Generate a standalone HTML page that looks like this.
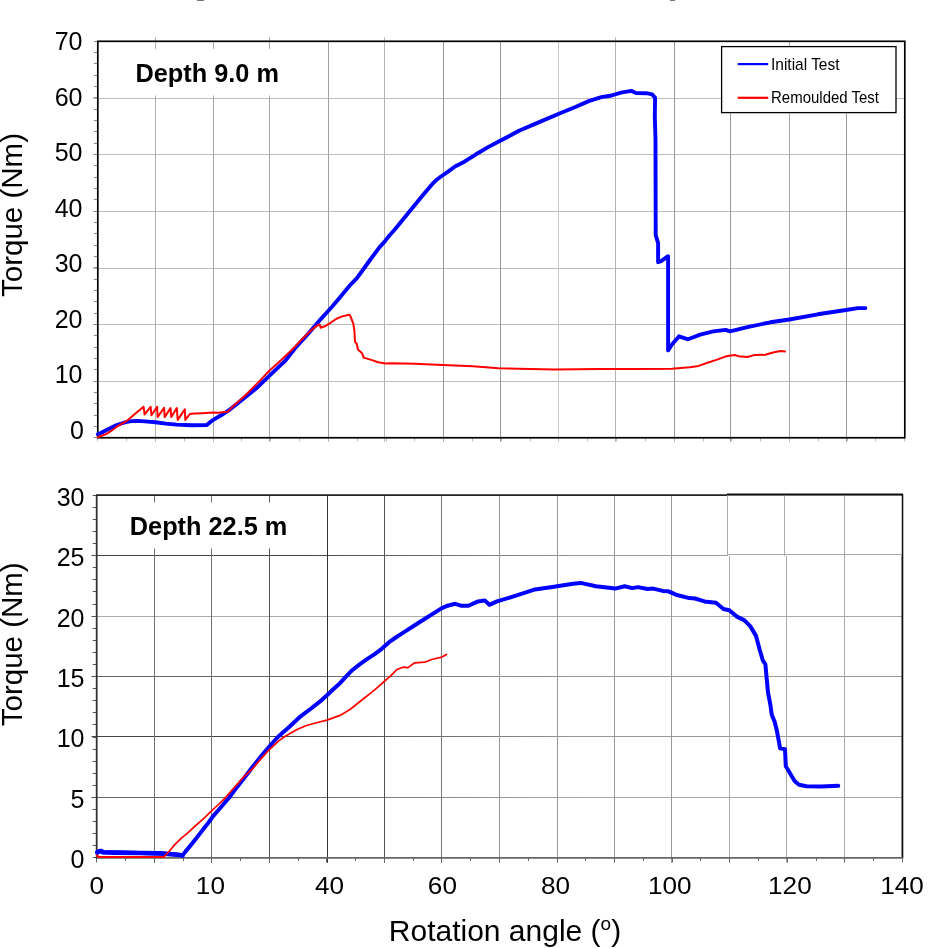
<!DOCTYPE html><html><head><meta charset="utf-8"><style>html,body{margin:0;padding:0;background:#fff}svg{display:block;will-change:transform}text{font-family:"Liberation Sans",sans-serif}</style></head><body>
<svg width="947" height="948" viewBox="0 0 947 948">
<rect width="947" height="948" fill="#fff"/>
<rect x="197" y="0" width="7" height="1" fill="#777"/><rect x="670" y="0" width="5" height="1" fill="#777"/>
<line x1="92.8" y1="98.5" x2="904.8" y2="98.5" stroke="#bcbcbc" stroke-width="1"/>
<line x1="92.8" y1="154.5" x2="904.8" y2="154.5" stroke="#bcbcbc" stroke-width="1"/>
<line x1="92.8" y1="211.5" x2="904.8" y2="211.5" stroke="#bcbcbc" stroke-width="1"/>
<line x1="92.8" y1="268.5" x2="904.8" y2="268.5" stroke="#bcbcbc" stroke-width="1"/>
<line x1="92.8" y1="324.5" x2="904.8" y2="324.5" stroke="#bcbcbc" stroke-width="1"/>
<line x1="92.8" y1="381.5" x2="904.8" y2="381.5" stroke="#bcbcbc" stroke-width="1"/>
<line x1="155.5" y1="37.3" x2="155.5" y2="441.75" stroke="#b0b0b0" stroke-width="1"/>
<line x1="213.5" y1="41.3" x2="213.5" y2="441.75" stroke="#a8a8a8" stroke-width="1"/>
<line x1="269.5" y1="37.3" x2="269.5" y2="441.75" stroke="#a8a8a8" stroke-width="1"/>
<line x1="328.5" y1="41.3" x2="328.5" y2="441.75" stroke="#a0a0a0" stroke-width="1"/>
<line x1="384.5" y1="37.3" x2="384.5" y2="441.75" stroke="#b4b4b4" stroke-width="1"/>
<line x1="443.5" y1="41.3" x2="443.5" y2="441.75" stroke="#999" stroke-width="1"/>
<line x1="500.5" y1="41.3" x2="500.5" y2="441.75" stroke="#999" stroke-width="1"/>
<line x1="558.5" y1="41.3" x2="558.5" y2="441.75" stroke="#c8c8c8" stroke-width="1"/>
<line x1="615.5" y1="37.3" x2="615.5" y2="441.75" stroke="#b4b4b4" stroke-width="1"/>
<line x1="674.5" y1="41.3" x2="674.5" y2="441.75" stroke="#999" stroke-width="1"/>
<line x1="730.5" y1="112.6" x2="730.5" y2="441.75" stroke="#999" stroke-width="1"/>
<line x1="789.5" y1="41.3" x2="789.5" y2="441.75" stroke="#a8a8a8" stroke-width="1"/>
<line x1="846.5" y1="112.6" x2="846.5" y2="441.75" stroke="#999" stroke-width="1"/>
<line x1="93.8" y1="437.5" x2="97.8" y2="437.5" stroke="#888" stroke-width="1"/>
<line x1="93.8" y1="426.5" x2="97.8" y2="426.5" stroke="#888" stroke-width="1"/>
<line x1="93.8" y1="415.5" x2="97.8" y2="415.5" stroke="#888" stroke-width="1"/>
<line x1="93.8" y1="403.5" x2="97.8" y2="403.5" stroke="#888" stroke-width="1"/>
<line x1="93.8" y1="392.5" x2="97.8" y2="392.5" stroke="#888" stroke-width="1"/>
<line x1="93.8" y1="381.5" x2="97.8" y2="381.5" stroke="#888" stroke-width="1"/>
<line x1="93.8" y1="369.5" x2="97.8" y2="369.5" stroke="#888" stroke-width="1"/>
<line x1="93.8" y1="358.5" x2="97.8" y2="358.5" stroke="#888" stroke-width="1"/>
<line x1="93.8" y1="347.5" x2="97.8" y2="347.5" stroke="#888" stroke-width="1"/>
<line x1="93.8" y1="335.5" x2="97.8" y2="335.5" stroke="#888" stroke-width="1"/>
<line x1="93.8" y1="324.5" x2="97.8" y2="324.5" stroke="#888" stroke-width="1"/>
<line x1="93.8" y1="313.5" x2="97.8" y2="313.5" stroke="#888" stroke-width="1"/>
<line x1="93.8" y1="301.5" x2="97.8" y2="301.5" stroke="#888" stroke-width="1"/>
<line x1="93.8" y1="290.5" x2="97.8" y2="290.5" stroke="#888" stroke-width="1"/>
<line x1="93.8" y1="279.5" x2="97.8" y2="279.5" stroke="#888" stroke-width="1"/>
<line x1="93.8" y1="267.5" x2="97.8" y2="267.5" stroke="#888" stroke-width="1"/>
<line x1="93.8" y1="256.5" x2="97.8" y2="256.5" stroke="#888" stroke-width="1"/>
<line x1="93.8" y1="245.5" x2="97.8" y2="245.5" stroke="#888" stroke-width="1"/>
<line x1="93.8" y1="233.5" x2="97.8" y2="233.5" stroke="#888" stroke-width="1"/>
<line x1="93.8" y1="222.5" x2="97.8" y2="222.5" stroke="#888" stroke-width="1"/>
<line x1="93.8" y1="211.5" x2="97.8" y2="211.5" stroke="#888" stroke-width="1"/>
<line x1="93.8" y1="199.5" x2="97.8" y2="199.5" stroke="#888" stroke-width="1"/>
<line x1="93.8" y1="188.5" x2="97.8" y2="188.5" stroke="#888" stroke-width="1"/>
<line x1="93.8" y1="177.5" x2="97.8" y2="177.5" stroke="#888" stroke-width="1"/>
<line x1="93.8" y1="165.5" x2="97.8" y2="165.5" stroke="#888" stroke-width="1"/>
<line x1="93.8" y1="154.5" x2="97.8" y2="154.5" stroke="#888" stroke-width="1"/>
<line x1="93.8" y1="143.5" x2="97.8" y2="143.5" stroke="#888" stroke-width="1"/>
<line x1="93.8" y1="131.5" x2="97.8" y2="131.5" stroke="#888" stroke-width="1"/>
<line x1="93.8" y1="120.5" x2="97.8" y2="120.5" stroke="#888" stroke-width="1"/>
<line x1="93.8" y1="109.5" x2="97.8" y2="109.5" stroke="#888" stroke-width="1"/>
<line x1="93.8" y1="97.5" x2="97.8" y2="97.5" stroke="#888" stroke-width="1"/>
<line x1="93.8" y1="86.5" x2="97.8" y2="86.5" stroke="#888" stroke-width="1"/>
<line x1="93.8" y1="75.5" x2="97.8" y2="75.5" stroke="#888" stroke-width="1"/>
<line x1="93.8" y1="63.5" x2="97.8" y2="63.5" stroke="#888" stroke-width="1"/>
<line x1="93.8" y1="52.5" x2="97.8" y2="52.5" stroke="#888" stroke-width="1"/>
<line x1="93.8" y1="41.5" x2="97.8" y2="41.5" stroke="#888" stroke-width="1"/>
<line x1="97.5" y1="437.75" x2="97.5" y2="441.25" stroke="#bbb" stroke-width="1"/>
<line x1="126.5" y1="437.75" x2="126.5" y2="441.25" stroke="#bbb" stroke-width="1"/>
<line x1="155.5" y1="437.75" x2="155.5" y2="441.25" stroke="#bbb" stroke-width="1"/>
<line x1="184.5" y1="437.75" x2="184.5" y2="441.25" stroke="#bbb" stroke-width="1"/>
<line x1="213.5" y1="437.75" x2="213.5" y2="441.25" stroke="#bbb" stroke-width="1"/>
<line x1="241.5" y1="437.75" x2="241.5" y2="441.25" stroke="#bbb" stroke-width="1"/>
<line x1="270.5" y1="437.75" x2="270.5" y2="441.25" stroke="#bbb" stroke-width="1"/>
<line x1="299.5" y1="437.75" x2="299.5" y2="441.25" stroke="#bbb" stroke-width="1"/>
<line x1="328.5" y1="437.75" x2="328.5" y2="441.25" stroke="#bbb" stroke-width="1"/>
<line x1="357.5" y1="437.75" x2="357.5" y2="441.25" stroke="#bbb" stroke-width="1"/>
<line x1="386.5" y1="437.75" x2="386.5" y2="441.25" stroke="#bbb" stroke-width="1"/>
<line x1="414.5" y1="437.75" x2="414.5" y2="441.25" stroke="#bbb" stroke-width="1"/>
<line x1="443.5" y1="437.75" x2="443.5" y2="441.25" stroke="#bbb" stroke-width="1"/>
<line x1="472.5" y1="437.75" x2="472.5" y2="441.25" stroke="#bbb" stroke-width="1"/>
<line x1="501.5" y1="437.75" x2="501.5" y2="441.25" stroke="#bbb" stroke-width="1"/>
<line x1="530.5" y1="437.75" x2="530.5" y2="441.25" stroke="#bbb" stroke-width="1"/>
<line x1="558.5" y1="437.75" x2="558.5" y2="441.25" stroke="#bbb" stroke-width="1"/>
<line x1="587.5" y1="437.75" x2="587.5" y2="441.25" stroke="#bbb" stroke-width="1"/>
<line x1="616.5" y1="437.75" x2="616.5" y2="441.25" stroke="#bbb" stroke-width="1"/>
<line x1="645.5" y1="437.75" x2="645.5" y2="441.25" stroke="#bbb" stroke-width="1"/>
<line x1="674.5" y1="437.75" x2="674.5" y2="441.25" stroke="#bbb" stroke-width="1"/>
<line x1="703.5" y1="437.75" x2="703.5" y2="441.25" stroke="#bbb" stroke-width="1"/>
<line x1="731.5" y1="437.75" x2="731.5" y2="441.25" stroke="#bbb" stroke-width="1"/>
<line x1="760.5" y1="437.75" x2="760.5" y2="441.25" stroke="#bbb" stroke-width="1"/>
<line x1="789.5" y1="437.75" x2="789.5" y2="441.25" stroke="#bbb" stroke-width="1"/>
<line x1="818.5" y1="437.75" x2="818.5" y2="441.25" stroke="#bbb" stroke-width="1"/>
<line x1="847.5" y1="437.75" x2="847.5" y2="441.25" stroke="#bbb" stroke-width="1"/>
<line x1="875.5" y1="437.75" x2="875.5" y2="441.25" stroke="#bbb" stroke-width="1"/>
<line x1="904.5" y1="437.75" x2="904.5" y2="441.25" stroke="#bbb" stroke-width="1"/>
<rect x="99" y="49" width="196" height="46.5" fill="#fff"/>
<rect x="721.6" y="46.6" width="174.4" height="66" fill="#fff" stroke="#000" stroke-width="1.3"/>
<line x1="737.7" y1="64.1" x2="768.2" y2="64.1" stroke="#0000ff" stroke-width="2.2"/>
<line x1="737.7" y1="97.8" x2="768.2" y2="97.8" stroke="#ff0000" stroke-width="2.2"/>
<text x="771" y="69.5" font-size="17" textLength="68.5" lengthAdjust="spacingAndGlyphs" fill="#000">Initial Test</text>
<text x="771" y="103.4" font-size="17" textLength="108" lengthAdjust="spacingAndGlyphs" fill="#000">Remoulded Test</text>
<rect x="97.8" y="41.3" width="807.0" height="396.45" fill="none" stroke="#000" stroke-width="1.7"/>
<path d="M97.8,434.3 L100.3,433.3 L105.6,430.6 L110.8,428.0 L116.1,425.3 L121.4,423.5 L126.7,421.9 L132.0,421.1 L137.2,420.9 L145.0,421.4 L155.4,422.2 L165.9,423.6 L176.5,424.6 L185.7,425.0 L192.0,425.2 L206.8,425.0 L211.6,420.9 L223.2,414.0 L230.2,409.3 L245.0,397.5 L256.6,388.0 L268.2,376.9 L279.8,365.9 L285.0,361.0 L295.3,348.0 L308.0,334.0 L315.5,325.3 L320.8,319.1 L326.6,312.7 L332.4,306.3 L338.2,299.4 L344.0,292.4 L349.8,285.4 L356.7,278.3 L364.3,268.0 L370.7,259.0 L379.4,247.4 L384.6,241.6 L389.2,235.8 L394.4,230.0 L409.9,211.1 L423.4,194.6 L431.9,184.4 L436.0,180.3 L440.3,177.0 L448.8,171.1 L455.0,166.5 L464.4,161.7 L476.0,154.3 L488.6,146.9 L500.6,140.5 L509.8,135.8 L519.0,130.8 L538.0,122.6 L558.9,113.7 L576.0,106.8 L588.7,101.1 L601.4,97.2 L611.6,95.5 L620.9,92.6 L631.3,90.9 L636.0,93.0 L646.4,93.2 L652.2,94.4 L655.1,97.8 L654.8,116.4 L655.5,139.6 L655.7,235.1 L658.1,243.1 L658.1,262.2 L661.1,261.2 L668.1,256.2 L668.1,350.4 L672.1,344.3 L679.1,336.3 L688.1,339.3 L700.2,334.6 L713.3,331.4 L725.7,329.9 L730.0,331.4 L747.5,327.1 L770.3,322.3 L789.3,319.5 L817.8,314.3 L846.0,310.0 L857.8,308.1 L865.4,308.1" fill="none" stroke="#0000ff" stroke-width="3.9" stroke-linejoin="round" stroke-linecap="round"/>
<path d="M97.8,437.2 L105.6,434.3 L110.8,431.2 L116.1,427.2 L121.4,423.8 L126.7,420.9 L132.0,416.4 L137.2,412.1 L143.6,406.9 L144.6,414.4 L150.6,406.8 L151.5,415.3 L157.1,406.8 L157.6,417.1 L164.1,407.7 L164.7,417.1 L170.5,408.1 L171.3,417.1 L176.8,408.1 L177.7,419.9 L184.8,409.4 L185.3,419.9 L189.9,414.0 L194.1,413.6 L202.6,413.2 L212.8,412.6 L218.6,412.8 L227.8,411.6 L234.8,404.7 L246.4,394.2 L258.0,382.6 L269.6,370.5 L281.2,360.0 L292.8,349.0 L301.6,339.6 L313.2,328.6 L317.8,325.1 L319.6,324.5 L320.7,327.7 L324.8,326.3 L330.6,322.8 L336.4,318.7 L342.2,316.4 L349.2,314.7 L350.3,315.8 L353.2,323.4 L354.4,330.3 L355.0,341.9 L356.7,343.7 L357.9,349.5 L361.9,352.9 L363.7,357.6 L371.2,359.9 L378.2,362.2 L385.1,363.4 L391.6,363.2 L414.8,363.7 L442.7,365.1 L472.9,366.2 L498.5,368.3 L531.0,369.0 L554.2,369.5 L600.0,368.9 L634.3,369.0 L672.0,368.8 L689.8,367.2 L698.6,365.9 L707.5,362.8 L716.4,359.9 L725.3,356.6 L730.8,355.5 L735.2,355.1 L738.6,356.2 L747.4,357.0 L754.1,355.1 L765.2,354.8 L774.0,352.2 L780.7,351.1 L785.1,351.5" fill="none" stroke="#ff0000" stroke-width="2" stroke-linejoin="round" stroke-linecap="round"/>
<text x="135.5" y="81.9" font-size="25.3" font-weight="bold" fill="#000">Depth 9.0 m</text>
<text x="82.5" y="49.9" font-size="25" text-anchor="end" fill="#000">70</text>
<text x="82.5" y="105.5" font-size="25" text-anchor="end" fill="#000">60</text>
<text x="82.5" y="161.0" font-size="25" text-anchor="end" fill="#000">50</text>
<text x="82.5" y="216.6" font-size="25" text-anchor="end" fill="#000">40</text>
<text x="82.5" y="272.1" font-size="25" text-anchor="end" fill="#000">30</text>
<text x="82.5" y="327.7" font-size="25" text-anchor="end" fill="#000">20</text>
<text x="82.5" y="383.3" font-size="25" text-anchor="end" fill="#000">10</text>
<text x="84" y="438.8" font-size="25" text-anchor="end" fill="#000">0</text>
<text transform="translate(22,215) rotate(-90)" font-size="29.5" text-anchor="middle" fill="#000">Torque (Nm)</text>
<defs>
<linearGradient id="hg0" gradientUnits="userSpaceOnUse" x1="96.7" y1="0" x2="902.4" y2="0"><stop offset="0.25" stop-color="#444"/><stop offset="0.6" stop-color="#999"/></linearGradient>
<linearGradient id="hg1" gradientUnits="userSpaceOnUse" x1="96.7" y1="0" x2="902.4" y2="0"><stop offset="0.25" stop-color="#aaa"/><stop offset="0.6" stop-color="#aaa"/></linearGradient>
<linearGradient id="hg2" gradientUnits="userSpaceOnUse" x1="96.7" y1="0" x2="902.4" y2="0"><stop offset="0.25" stop-color="#666"/><stop offset="0.6" stop-color="#999"/></linearGradient>
<linearGradient id="hg3" gradientUnits="userSpaceOnUse" x1="96.7" y1="0" x2="902.4" y2="0"><stop offset="0.25" stop-color="#444"/><stop offset="0.6" stop-color="#999"/></linearGradient>
<linearGradient id="hg4" gradientUnits="userSpaceOnUse" x1="96.7" y1="0" x2="902.4" y2="0"><stop offset="0.25" stop-color="#666"/><stop offset="0.6" stop-color="#aaa"/></linearGradient>
</defs>
<line x1="91.7" y1="555.5" x2="902.4" y2="555.5" stroke="url(#hg0)" stroke-width="1"/>
<line x1="91.7" y1="555.5" x2="96.7" y2="555.5" stroke="#444" stroke-width="1"/>
<line x1="91.7" y1="616.5" x2="902.4" y2="616.5" stroke="url(#hg1)" stroke-width="1"/>
<line x1="91.7" y1="616.5" x2="96.7" y2="616.5" stroke="#444" stroke-width="1"/>
<line x1="91.7" y1="676.5" x2="902.4" y2="676.5" stroke="url(#hg2)" stroke-width="1"/>
<line x1="91.7" y1="676.5" x2="96.7" y2="676.5" stroke="#444" stroke-width="1"/>
<line x1="91.7" y1="736.5" x2="902.4" y2="736.5" stroke="url(#hg3)" stroke-width="1"/>
<line x1="91.7" y1="736.5" x2="96.7" y2="736.5" stroke="#444" stroke-width="1"/>
<line x1="91.7" y1="797.5" x2="902.4" y2="797.5" stroke="url(#hg4)" stroke-width="1"/>
<line x1="91.7" y1="797.5" x2="96.7" y2="797.5" stroke="#444" stroke-width="1"/>
<line x1="154.5" y1="495.2" x2="154.5" y2="862.9" stroke="#707070" stroke-width="1"/>
<line x1="211.5" y1="495.2" x2="211.5" y2="862.9" stroke="#707070" stroke-width="1"/>
<line x1="269.5" y1="495.2" x2="269.5" y2="862.9" stroke="#555" stroke-width="1"/>
<line x1="327.5" y1="495.2" x2="327.5" y2="862.9" stroke="#333" stroke-width="1"/>
<line x1="384.5" y1="495.2" x2="384.5" y2="862.9" stroke="#555" stroke-width="1"/>
<line x1="441.5" y1="495.2" x2="441.5" y2="862.9" stroke="#777" stroke-width="1"/>
<line x1="499.5" y1="495.2" x2="499.5" y2="862.9" stroke="#999" stroke-width="1"/>
<line x1="557.5" y1="495.2" x2="557.5" y2="862.9" stroke="#999" stroke-width="1"/>
<line x1="614.5" y1="495.2" x2="614.5" y2="862.9" stroke="#999" stroke-width="1"/>
<line x1="671.5" y1="495.2" x2="671.5" y2="862.9" stroke="#999" stroke-width="1"/>
<line x1="729.5" y1="495.2" x2="729.5" y2="862.9" stroke="#aaa" stroke-width="1"/>
<line x1="786.5" y1="495.2" x2="786.5" y2="862.9" stroke="#aaa" stroke-width="1"/>
<line x1="844.5" y1="495.2" x2="844.5" y2="862.9" stroke="#aaa" stroke-width="1"/>
<line x1="92.7" y1="857.5" x2="96.7" y2="857.5" stroke="#555" stroke-width="1"/>
<line x1="92.7" y1="845.5" x2="96.7" y2="845.5" stroke="#555" stroke-width="1"/>
<line x1="92.7" y1="833.5" x2="96.7" y2="833.5" stroke="#555" stroke-width="1"/>
<line x1="92.7" y1="821.5" x2="96.7" y2="821.5" stroke="#555" stroke-width="1"/>
<line x1="92.7" y1="809.5" x2="96.7" y2="809.5" stroke="#555" stroke-width="1"/>
<line x1="92.7" y1="797.5" x2="96.7" y2="797.5" stroke="#555" stroke-width="1"/>
<line x1="92.7" y1="785.5" x2="96.7" y2="785.5" stroke="#555" stroke-width="1"/>
<line x1="92.7" y1="773.5" x2="96.7" y2="773.5" stroke="#555" stroke-width="1"/>
<line x1="92.7" y1="761.5" x2="96.7" y2="761.5" stroke="#555" stroke-width="1"/>
<line x1="92.7" y1="749.5" x2="96.7" y2="749.5" stroke="#555" stroke-width="1"/>
<line x1="92.7" y1="737.5" x2="96.7" y2="737.5" stroke="#555" stroke-width="1"/>
<line x1="92.7" y1="724.5" x2="96.7" y2="724.5" stroke="#555" stroke-width="1"/>
<line x1="92.7" y1="712.5" x2="96.7" y2="712.5" stroke="#555" stroke-width="1"/>
<line x1="92.7" y1="700.5" x2="96.7" y2="700.5" stroke="#555" stroke-width="1"/>
<line x1="92.7" y1="688.5" x2="96.7" y2="688.5" stroke="#555" stroke-width="1"/>
<line x1="92.7" y1="676.5" x2="96.7" y2="676.5" stroke="#555" stroke-width="1"/>
<line x1="92.7" y1="664.5" x2="96.7" y2="664.5" stroke="#555" stroke-width="1"/>
<line x1="92.7" y1="652.5" x2="96.7" y2="652.5" stroke="#555" stroke-width="1"/>
<line x1="92.7" y1="640.5" x2="96.7" y2="640.5" stroke="#555" stroke-width="1"/>
<line x1="92.7" y1="628.5" x2="96.7" y2="628.5" stroke="#555" stroke-width="1"/>
<line x1="92.7" y1="616.5" x2="96.7" y2="616.5" stroke="#555" stroke-width="1"/>
<line x1="92.7" y1="604.5" x2="96.7" y2="604.5" stroke="#555" stroke-width="1"/>
<line x1="92.7" y1="591.5" x2="96.7" y2="591.5" stroke="#555" stroke-width="1"/>
<line x1="92.7" y1="579.5" x2="96.7" y2="579.5" stroke="#555" stroke-width="1"/>
<line x1="92.7" y1="567.5" x2="96.7" y2="567.5" stroke="#555" stroke-width="1"/>
<line x1="92.7" y1="555.5" x2="96.7" y2="555.5" stroke="#555" stroke-width="1"/>
<line x1="92.7" y1="543.5" x2="96.7" y2="543.5" stroke="#555" stroke-width="1"/>
<line x1="92.7" y1="531.5" x2="96.7" y2="531.5" stroke="#555" stroke-width="1"/>
<line x1="92.7" y1="519.5" x2="96.7" y2="519.5" stroke="#555" stroke-width="1"/>
<line x1="92.7" y1="507.5" x2="96.7" y2="507.5" stroke="#555" stroke-width="1"/>
<line x1="92.7" y1="495.5" x2="96.7" y2="495.5" stroke="#555" stroke-width="1"/>
<line x1="96.5" y1="857.9" x2="96.5" y2="862.4" stroke="#666" stroke-width="1"/>
<line x1="125.5" y1="857.9" x2="125.5" y2="860.9" stroke="#666" stroke-width="1"/>
<line x1="154.5" y1="857.9" x2="154.5" y2="862.4" stroke="#666" stroke-width="1"/>
<line x1="183.5" y1="857.9" x2="183.5" y2="860.9" stroke="#666" stroke-width="1"/>
<line x1="211.5" y1="857.9" x2="211.5" y2="862.4" stroke="#666" stroke-width="1"/>
<line x1="240.5" y1="857.9" x2="240.5" y2="860.9" stroke="#666" stroke-width="1"/>
<line x1="269.5" y1="857.9" x2="269.5" y2="862.4" stroke="#666" stroke-width="1"/>
<line x1="298.5" y1="857.9" x2="298.5" y2="860.9" stroke="#666" stroke-width="1"/>
<line x1="326.5" y1="857.9" x2="326.5" y2="862.4" stroke="#666" stroke-width="1"/>
<line x1="355.5" y1="857.9" x2="355.5" y2="860.9" stroke="#666" stroke-width="1"/>
<line x1="384.5" y1="857.9" x2="384.5" y2="862.4" stroke="#666" stroke-width="1"/>
<line x1="413.5" y1="857.9" x2="413.5" y2="860.9" stroke="#666" stroke-width="1"/>
<line x1="441.5" y1="857.9" x2="441.5" y2="862.4" stroke="#666" stroke-width="1"/>
<line x1="470.5" y1="857.9" x2="470.5" y2="860.9" stroke="#666" stroke-width="1"/>
<line x1="499.5" y1="857.9" x2="499.5" y2="862.4" stroke="#666" stroke-width="1"/>
<line x1="528.5" y1="857.9" x2="528.5" y2="860.9" stroke="#666" stroke-width="1"/>
<line x1="557.5" y1="857.9" x2="557.5" y2="862.4" stroke="#666" stroke-width="1"/>
<line x1="585.5" y1="857.9" x2="585.5" y2="860.9" stroke="#666" stroke-width="1"/>
<line x1="614.5" y1="857.9" x2="614.5" y2="862.4" stroke="#666" stroke-width="1"/>
<line x1="643.5" y1="857.9" x2="643.5" y2="860.9" stroke="#666" stroke-width="1"/>
<line x1="672.5" y1="857.9" x2="672.5" y2="862.4" stroke="#666" stroke-width="1"/>
<line x1="700.5" y1="857.9" x2="700.5" y2="860.9" stroke="#666" stroke-width="1"/>
<line x1="729.5" y1="857.9" x2="729.5" y2="862.4" stroke="#666" stroke-width="1"/>
<line x1="758.5" y1="857.9" x2="758.5" y2="860.9" stroke="#666" stroke-width="1"/>
<line x1="787.5" y1="857.9" x2="787.5" y2="862.4" stroke="#666" stroke-width="1"/>
<line x1="816.5" y1="857.9" x2="816.5" y2="860.9" stroke="#666" stroke-width="1"/>
<line x1="844.5" y1="857.9" x2="844.5" y2="862.4" stroke="#666" stroke-width="1"/>
<line x1="873.5" y1="857.9" x2="873.5" y2="860.9" stroke="#666" stroke-width="1"/>
<line x1="902.5" y1="857.9" x2="902.5" y2="862.4" stroke="#666" stroke-width="1"/>
<rect x="98" y="502.5" width="190" height="46" fill="#fff"/>
<line x1="96.7" y1="495.2" x2="902.4" y2="495.2" stroke="#222" stroke-width="1.8"/>
<line x1="902.4" y1="494.3" x2="902.4" y2="857.9" stroke="#111" stroke-width="1.8"/>
<line x1="96.7" y1="494.3" x2="96.7" y2="858.8" stroke="#333" stroke-width="1.8"/>
<line x1="96.7" y1="857.9" x2="903.3" y2="857.9" stroke="#666" stroke-width="1.7"/>
<rect x="727" y="495.5" width="174.5" height="60.5" fill="#fff"/>
<line x1="727" y1="554.5" x2="902" y2="554.5" stroke="#aaa" stroke-width="1"/>
<line x1="727.5" y1="494.5" x2="727.5" y2="556" stroke="#aaa" stroke-width="1"/>
<line x1="784.5" y1="494.5" x2="784.5" y2="556" stroke="#aaa" stroke-width="1"/>
<line x1="844.5" y1="494.5" x2="844.5" y2="556" stroke="#aaa" stroke-width="1"/>
<line x1="727" y1="494.4" x2="903" y2="494.4" stroke="#111" stroke-width="1.6"/>
<path d="M97.3,852.5 L99.0,851.3 L101.0,851.0 L103.0,852.3 L115.3,852.6 L140.7,853.0 L160.0,853.4 L172.0,854.2 L180.0,855.0 L182.5,855.4 L185.4,851.6 L191.2,844.6 L195.9,838.8 L199.9,833.6 L204.0,828.2 L208.6,822.4 L212.7,816.6 L218.5,810.0 L229.0,797.8 L237.5,786.4 L245.9,775.8 L252.3,767.2 L261.6,755.6 L271.5,744.0 L278.4,736.5 L289.7,726.5 L300.6,716.3 L311.1,708.5 L321.7,700.1 L327.0,695.3 L333.0,689.5 L340.0,683.2 L344.8,677.8 L352.2,670.2 L359.6,664.4 L367.0,659.2 L374.3,654.4 L381.7,648.8 L389.1,642.2 L396.5,637.0 L402.9,632.9 L419.8,622.0 L441.4,608.4 L447.6,605.7 L455.2,603.8 L460.9,605.7 L468.5,605.7 L478.0,601.4 L484.7,600.4 L489.4,604.8 L497.0,601.4 L516.0,595.7 L535.0,589.4 L554.0,586.7 L573.0,583.7 L580.7,582.9 L595.9,586.2 L611.1,588.1 L615.2,588.6 L624.7,586.2 L632.3,588.1 L638.0,587.1 L647.5,589.0 L653.2,588.6 L662.7,590.9 L668.4,591.3 L676.0,594.7 L689.3,598.1 L695.0,598.5 L704.5,601.4 L716.0,602.7 L723.5,609.0 L729.3,610.3 L736.9,616.6 L744.5,620.4 L750.2,626.1 L755.9,635.6 L759.7,649.8 L762.9,660.7 L765.4,664.4 L766.6,677.7 L768.0,692.5 L770.3,704.3 L771.7,714.6 L774.7,722.0 L776.9,730.8 L779.1,742.7 L780.1,748.3 L785.0,749.3 L785.8,766.3 L789.4,772.2 L794.6,781.0 L799.0,784.7 L806.4,786.2 L821.2,786.6 L838.2,785.8" fill="none" stroke="#0000ff" stroke-width="4" stroke-linejoin="round" stroke-linecap="round"/>
<path d="M97.3,852.5 L99.0,851.3 L101.0,851.0 L103.0,852.3 L115.3,852.6 L140.7,853.0 L160.0,853.4 L172.0,854.2 L180.0,855.0 L182.5,855.4" fill="none" stroke="#0000ff" stroke-width="4.6" stroke-linejoin="round" stroke-linecap="round"/>
<path d="M96.9,855.5 L98.8,856.9 L163.6,857.1" fill="none" stroke="#ee1111" stroke-width="2" stroke-linejoin="round" stroke-linecap="round"/>
<path d="M96.9,855.5 L98.8,856.9 L163.6,857.1 L168.6,852.0 L175.0,844.4 L181.4,838.1 L187.8,832.8 L194.1,827.0 L199.9,821.8 L205.7,816.6 L211.0,811.4 L217.9,805.0 L225.3,797.8 L235.3,786.4 L244.8,775.8 L252.9,768.5 L258.7,761.4 L269.1,749.8 L278.4,741.1 L284.8,736.5 L291.8,732.4 L297.0,729.5 L305.8,725.7 L316.4,722.8 L327.0,720.1 L340.0,715.4 L350.0,709.5 L362.5,699.5 L370.0,693.6 L377.6,687.3 L384.7,681.0 L391.4,675.1 L397.0,669.5 L402.9,667.2 L408.0,667.6 L414.7,662.8 L424.9,662.2 L431.6,659.5 L441.8,657.1 L446.5,654.4" fill="none" stroke="#ff0000" stroke-width="1.7" stroke-linejoin="round" stroke-linecap="round"/>
<text x="129.8" y="534.7" font-size="25.3" font-weight="bold" fill="#000">Depth 22.5 m</text>
<text x="84.5" y="505.7" font-size="25" text-anchor="end" fill="#000">30</text>
<text x="84.5" y="566.1" font-size="25" text-anchor="end" fill="#000">25</text>
<text x="84.5" y="626.5" font-size="25" text-anchor="end" fill="#000">20</text>
<text x="84.5" y="686.9" font-size="25" text-anchor="end" fill="#000">15</text>
<text x="84.5" y="747.3" font-size="25" text-anchor="end" fill="#000">10</text>
<text x="84.5" y="807.7" font-size="25" text-anchor="end" fill="#000">5</text>
<text x="84.5" y="868.1" font-size="25" text-anchor="end" fill="#000">0</text>
<text transform="translate(22,644.3) rotate(-90)" font-size="29.5" text-anchor="middle" fill="#000">Torque (Nm)</text>
<text transform="translate(96.8,893.6) scale(1.09,1)" font-size="24" text-anchor="middle" fill="#000">0</text>
<text transform="translate(210.4,893.6) scale(1.09,1)" font-size="24" text-anchor="middle" fill="#000">10</text>
<text transform="translate(329.5,893.6) scale(1.09,1)" font-size="24" text-anchor="middle" fill="#000">40</text>
<text transform="translate(442.4,893.6) scale(1.09,1)" font-size="24" text-anchor="middle" fill="#000">60</text>
<text transform="translate(555.6,893.6) scale(1.09,1)" font-size="24" text-anchor="middle" fill="#000">80</text>
<text transform="translate(669.8,893.6) scale(1.09,1)" font-size="24" text-anchor="middle" fill="#000">100</text>
<text transform="translate(789.9,893.6) scale(1.09,1)" font-size="24" text-anchor="middle" fill="#000">120</text>
<text transform="translate(902.1,893.6) scale(1.09,1)" font-size="24" text-anchor="middle" fill="#000">140</text>
<text x="505" y="940.8" font-size="30" text-anchor="middle" fill="#000">Rotation angle (<tspan font-size="19" dy="-10.5">o</tspan><tspan dy="10.5">)</tspan></text>
</svg></body></html>
